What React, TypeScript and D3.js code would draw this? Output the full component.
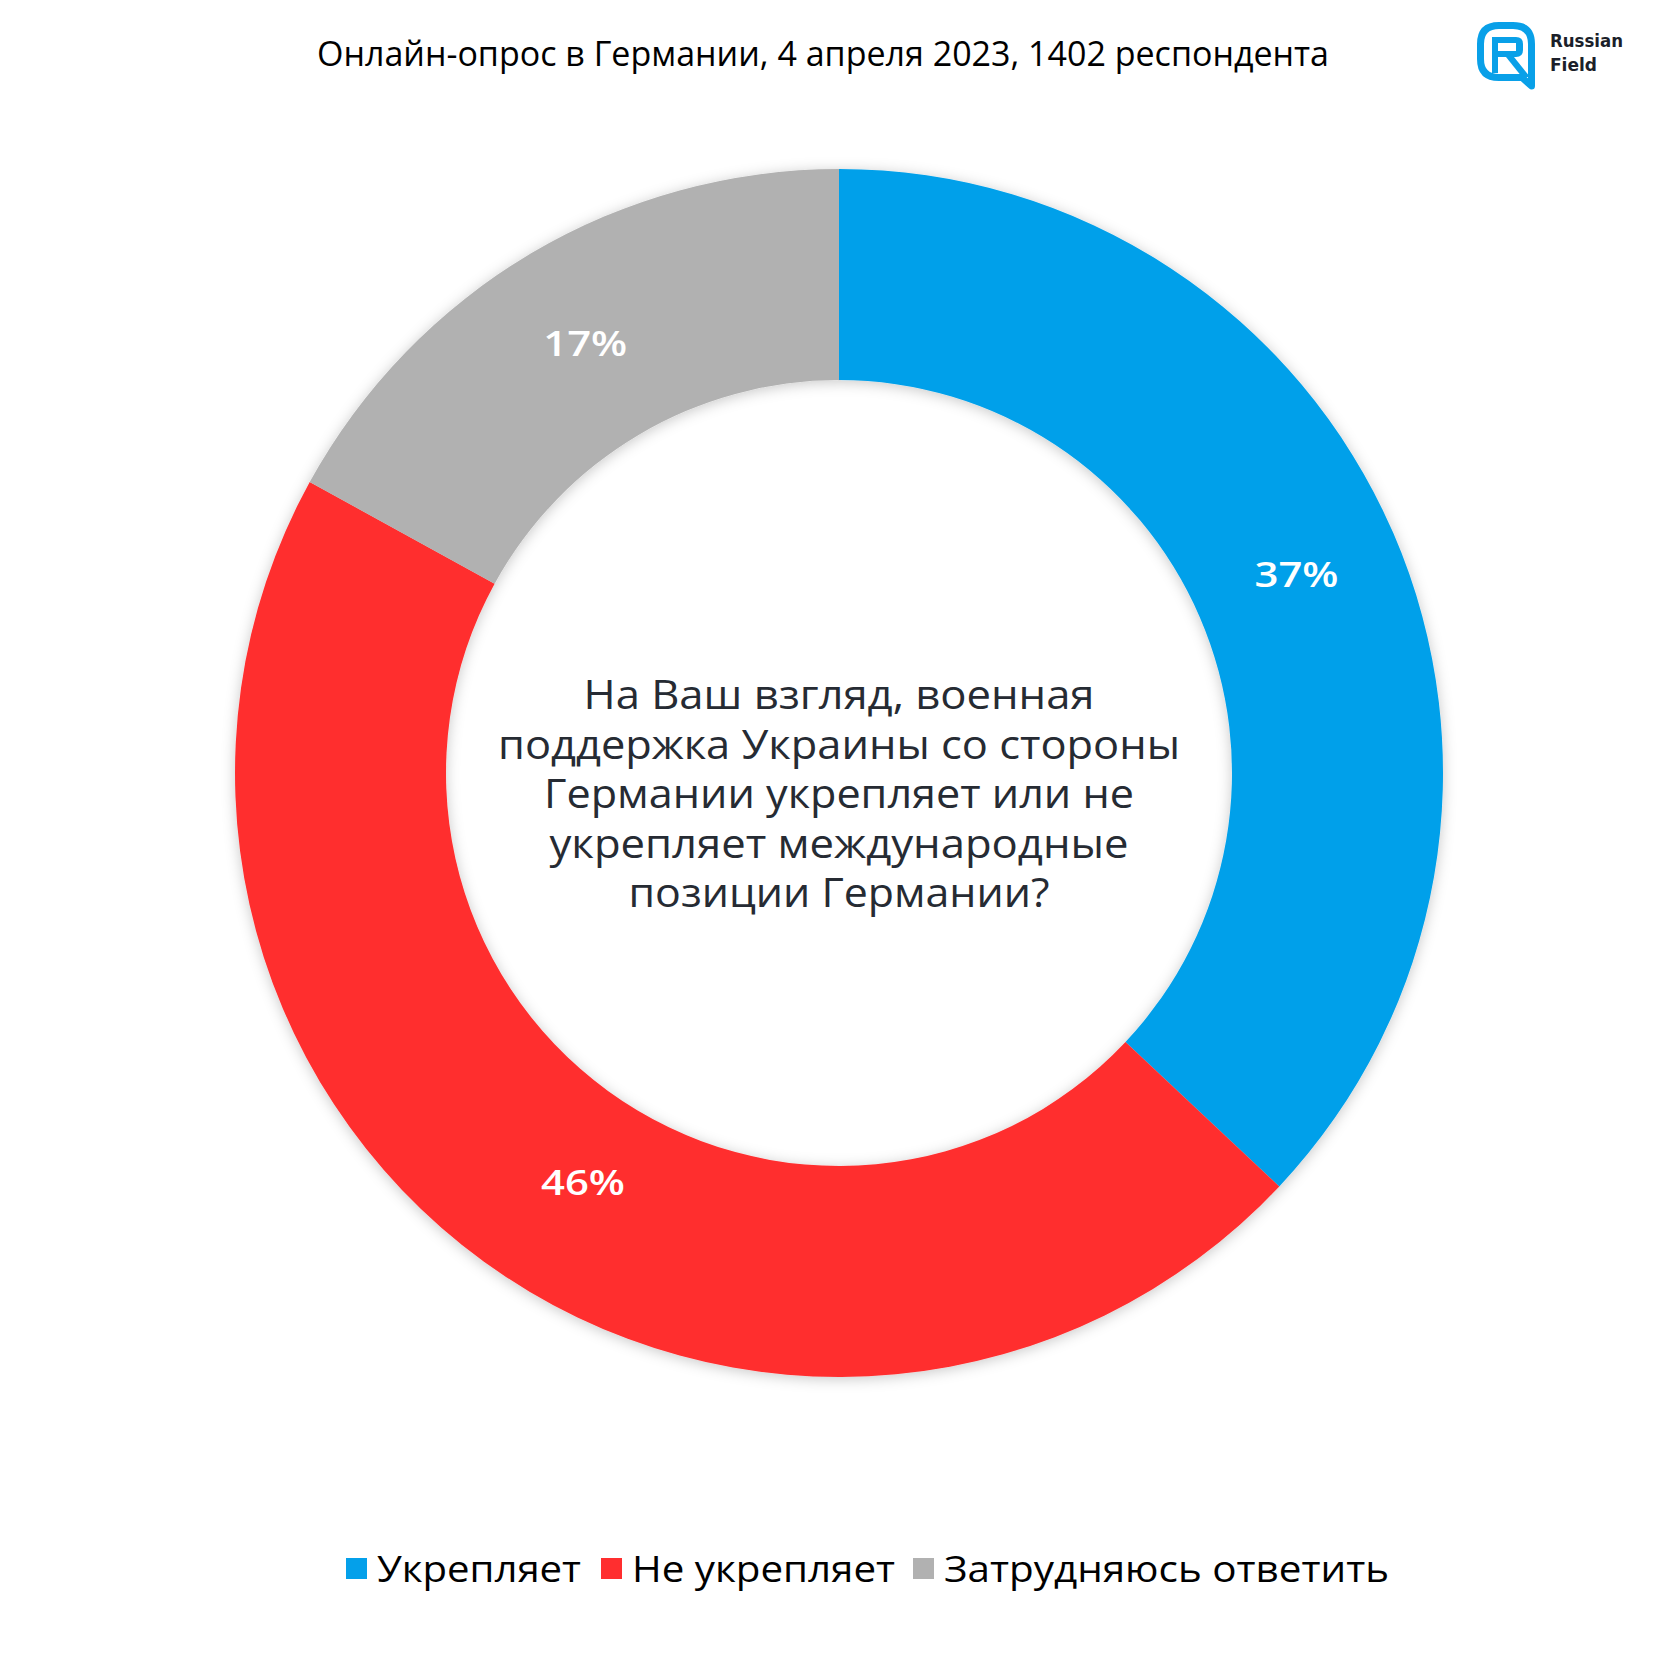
import React from "react";
import * as d3 from "d3";

const categories = ["Укрепляет", "Не укрепляет", "Затрудняюсь ответить"];
const values = [37, 46, 17];
const colors = ["#04A0EA", "#FF2E2F", "#B1B1B1"];
const titleText = "Онлайн-опрос в Германии, 4 апреля 2023, 1402 респондента";
const centerLines = [
  "На Ваш взгляд, военная",
  "поддержка Украины со стороны",
  "Германии укрепляет или не",
  "укрепляет международные",
  "позиции Германии?",
];
const centerLineWidths = [511, 682, 590, 579, 421];
const legendTextWidths = [204, 263, 445];
// small label nudges (px) relative to arc centroid
const labelNudgeX = [0, 37, 0];
const labelNudgeY = [0, 7, 0];

const W = 1680;
const H = 1680;
const cx = 839;
const cy = 773;
const outerR = 604;
const innerR = 393;

export default function App() {
  const pie = d3
    .pie<number>()
    .sort(null)
    .value((d) => d)(values);
  const arc = d3
    .arc<d3.PieArcDatum<number>>()
    .innerRadius(innerR)
    .outerRadius(outerR);

  const legendX = [346, 601, 913];
  const legendBaseline = 1582;
  const sq = 21;

  return (
    <svg
      width={W}
      height={H}
      viewBox={`0 0 ${W} ${H}`}
      style={{ position: "absolute", left: 0, top: 0, background: "#fff" }}
    >
      <defs>
        <filter id="shadow" x="-20%" y="-20%" width="140%" height="140%">
          <feDropShadow dx="0" dy="2" stdDeviation="7" floodColor="#000" floodOpacity="0.22" />
        </filter>
      </defs>
      <rect x={0} y={0} width={W} height={H} fill="#fff" />

      <text
        x={823}
        y={66}
        textAnchor="middle"
        fontFamily="'Open Sans', 'DejaVu Sans', sans-serif"
        fontSize={34}
        fill="#000"
        textLength={1012}
        lengthAdjust="spacingAndGlyphs"
      >
        {titleText}
      </text>

      {/* logo */}
      <g>
        <path
          d="M1480.5,44 Q1480.5,25.5 1499,25.5 L1513,25.5 Q1531.5,25.5 1531.5,44 L1531.5,86 L1522,77.5 L1499,77.5 Q1480.5,77.5 1480.5,59 Z"
          fill="none"
          stroke="#09A0E8"
          strokeWidth={7}
          strokeLinejoin="round"
        />
        <path
          d="M1492,73 L1492,37 L1516,37 Q1523,37 1523,44 L1523,50 Q1523,57 1516,57 L1498,57 L1498,51 L1516,51 L1516,43 L1498,43 L1498,73 Z"
          fill="#09A0E8"
        />
        <path d="M1506,57 L1514,57 L1530,77 L1522,77 Z" fill="#09A0E8" />
        <text
          x={1550}
          y={47}
          fontFamily="'DejaVu Sans', sans-serif"
          fontWeight="bold"
          fontSize={17}
          fill="#1B1F2A"
          textLength={73}
          lengthAdjust="spacingAndGlyphs"
        >
          Russian
        </text>
        <text
          x={1550}
          y={71}
          fontFamily="'DejaVu Sans', sans-serif"
          fontWeight="bold"
          fontSize={17}
          fill="#1B1F2A"
          textLength={47}
          lengthAdjust="spacingAndGlyphs"
        >
          Field
        </text>
      </g>

      <g transform={`translate(${cx},${cy})`}>
        <g filter="url(#shadow)">
          {pie.map((p, i) => (
            <path key={i} d={arc(p) || ""} fill={colors[i]} />
          ))}
        </g>
        {pie.map((p, i) => {
          const [x, y] = arc.centroid(p);
          return (
            <text
              key={"l" + i}
              x={x + labelNudgeX[i]}
              y={y + labelNudgeY[i]}
              dy="0.35em"
              textAnchor="middle"
              fontFamily="'Open Sans', sans-serif"
              fontWeight={600}
              fontSize={34}
              fill="#fff"
              textLength={84}
              lengthAdjust="spacingAndGlyphs"
            >
              {values[i]}%
            </text>
          );
        })}
        {centerLines.map((line, i) => (
          <text
            key={"c" + i}
            x={0}
            y={709 - cy + i * 49.6}
            textAnchor="middle"
            fontFamily="'Open Sans', sans-serif"
            fontSize={40}
            fill="#262B33"
            textLength={centerLineWidths[i]}
            lengthAdjust="spacingAndGlyphs"
          >
            {line}
          </text>
        ))}
      </g>

      {categories.map((c, i) => (
        <g key={"lg" + i}>
          <rect x={legendX[i]} y={1558} width={sq} height={sq} fill={colors[i]} />
          <text
            x={legendX[i] + 31}
            y={legendBaseline}
            fontFamily="'Open Sans', 'DejaVu Sans', sans-serif"
            fontSize={37}
            fill="#000"
            textLength={legendTextWidths[i]}
            lengthAdjust="spacingAndGlyphs"
          >
            {c}
          </text>
        </g>
      ))}
    </svg>
  );
}
